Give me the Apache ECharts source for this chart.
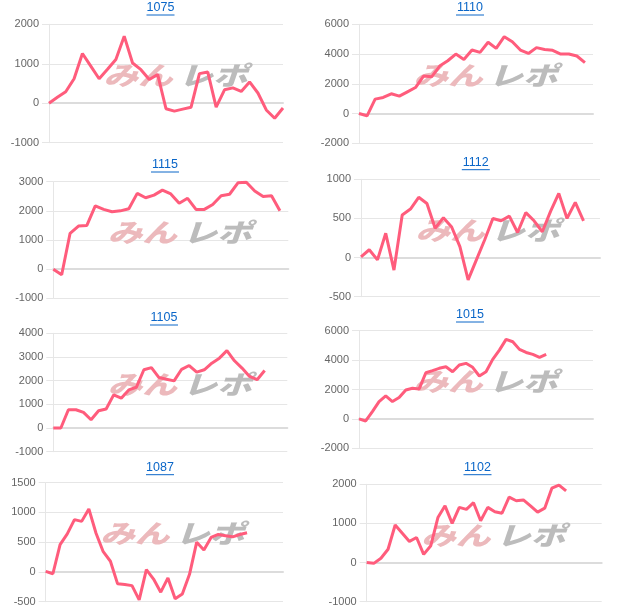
<!DOCTYPE html>
<html>
<head>
<meta charset="utf-8">
<script src="https://cdn.jsdelivr.net/npm/echarts@6.0.0/dist/echarts.min.js"></script>
<style>
html,body{margin:0;padding:0;background:#fff;}
#c{width:620px;height:612px;}
</style>
</head>
<body>
<div id="c"></div>
<script>
// ---- data ----
const titles = ['1075', '1110', '1115', '1112', '1105', '1015', '1087', '1102'];
const s1075 = [0,150,290,620,1260,940,620,860,1110,1700,1020,850,600,730,-140,-200,-150,-100,750,790,-100,340,390,300,540,260,-170,-380,-120];
const s1110 = [0,-150,970,1080,1330,1170,1460,1750,2520,2470,3190,3550,4000,3640,4270,4110,4790,4380,5170,4830,4270,4040,4430,4310,4250,4000,4000,3870,3420];
const s1115 = [0,-190,1230,1480,1500,2170,2050,1970,2000,2070,2600,2450,2540,2710,2580,2260,2430,2050,2050,2220,2520,2570,2960,2980,2680,2490,2520,2000];
const s1112 = [10,100,-30,310,-160,545,620,770,690,375,510,390,140,-285,-30,225,500,470,530,320,575,470,330,590,820,500,705,470];
const s1105 = [0,0,770,770,660,350,730,800,1400,1260,1610,1720,2460,2550,2130,2060,1990,2480,2640,2360,2460,2740,2950,3270,2840,2530,2180,2040,2430];
const s1015 = [0,-140,500,1180,1560,1180,1450,1970,2080,2040,3140,3280,3440,3550,3210,3670,3780,3510,2920,3210,4050,4680,5410,5250,4730,4520,4390,4190,4390];
const s1087 = [10,-30,460,640,880,850,1060,650,340,180,-200,-210,-230,-470,40,-120,-340,-100,-450,-370,-40,500,370,580,630,610,590,630,660];
const s1102 = [0,-20,110,340,960,750,540,640,210,430,1150,1450,1000,1410,1360,1530,1070,1410,1300,1260,1670,1580,1600,1450,1290,1390,1900,1980,1830];
const seriesData = [s1075, s1110, s1115, s1112, s1105, s1015, s1087, s1102];
const xCounts = [29, 30, 29, 30, 32, 36, 34, 34];
const yMins = [-1000, -2000, -1000, -500, -1000, -2000, -500, -1000];
const yMaxs = [2000, 6000, 3000, 1000, 4000, 6000, 1500, 2000];
const ySteps = [1000, 2000, 1000, 500, 1000, 2000, 500, 1000];
const watermarkLeft = 'みん';
const watermarkRight = 'レポ';

// ---- layout (page pixels) ----
const layout = [
  {left: 49,    top: 24.3,  width: 234,   height: 118.4, tx: 160.5, ty: 8},
  {left: 359,   top: 24.3,  width: 234,   height: 119,   tx: 470,   ty: 8},
  {left: 53.3,  top: 181.7, width: 235,   height: 116.6, tx: 165,   ty: 165},
  {left: 361,   top: 179.3, width: 239,   height: 117.4, tx: 475.8, ty: 162.7},
  {left: 53.3,  top: 333.3, width: 234,   height: 118.4, tx: 164,   ty: 318},
  {left: 359,   top: 330.7, width: 234,   height: 117.6, tx: 470,   ty: 315},
  {left: 45.7,  top: 482.7, width: 237.3, height: 119,   tx: 160,   ty: 467.7},
  {left: 366.7, top: 484.3, width: 235,   height: 117.4, tx: 477.5, ty: 467.7}
];

const grids = [], xAxes = [], yAxes = [], series = [], graphics = [];
const gridColor = '#e6e6e6';
const wmFont = 'italic 900 27px "Noto Sans CJK JP", sans-serif';
layout.forEach((L, i) => {
  grids.push({left: L.left, top: L.top, width: L.width, height: L.height, containLabel: false});
  const cats = Array.from({length: xCounts[i]}, (_, k) => String(k + 1));
  xAxes.push({
    type: 'category', gridIndex: i, data: cats, boundaryGap: false,
    axisLabel: {show: false}, axisTick: {show: false}, splitLine: {show: false},
    axisLine: {show: true, onZero: true, lineStyle: {color: '#dcdcdc', width: 2}}
  });
  yAxes.push({
    type: 'value', gridIndex: i, min: yMins[i], max: yMaxs[i], interval: ySteps[i],
    axisLine: {show: true, lineStyle: {color: gridColor, width: 1}},
    axisTick: {show: true, length: 7, lineStyle: {color: gridColor}},
    splitLine: {show: true, lineStyle: {color: gridColor, width: 1}},
    axisLabel: {color: '#666', fontSize: 11, fontFamily: '"Liberation Sans", Arial, sans-serif', margin: 10,
      formatter: v => String(v)}
  });
  series.push({
    type: 'line', xAxisIndex: i, yAxisIndex: i, data: seriesData[i],
    showSymbol: false, symbol: 'none', smooth: false, z: 5,
    lineStyle: {color: '#ff5c7c', width: 3}, itemStyle: {color: '#ff5c7c'},
    animation: false
  });
  // title with underline
  graphics.push({
    type: 'text', x: L.tx, y: L.ty, z: 10,
    style: {text: titles[i], fill: '#0a66c8', font: '12.5px "Liberation Sans", Arial, sans-serif', align: 'center', verticalAlign: 'middle'}
  });
  graphics.push({
    type: 'line', z: 10,
    shape: {x1: L.tx - 14, y1: L.ty + 7, x2: L.tx + 14, y2: L.ty + 7},
    style: {stroke: '#0a66c8', lineWidth: 1}
  });
  // watermark
  const wy = L.top + 51;
  graphics.push({
    type: 'text', x: L.left + 89, y: wy, z: 1, silent: true, scaleX: 1.28, scaleY: 0.95,
    style: {text: watermarkLeft, fill: '#ecb9bc', font: wmFont, align: 'center', verticalAlign: 'middle'}
  });
  graphics.push({
    type: 'text', x: L.left + 164, y: wy, z: 1, silent: true, scaleX: 1.28, scaleY: 0.95,
    style: {text: watermarkRight, fill: '#bcbcbc', font: wmFont, align: 'center', verticalAlign: 'middle'}
  });
});

const chart = echarts.init(document.getElementById('c'), null, {renderer: 'canvas'});
chart.setOption({
  animation: false,
  backgroundColor: '#fff',
  grid: grids, xAxis: xAxes, yAxis: yAxes, series: series,
  graphic: graphics
});
</script>
</body>
</html>
